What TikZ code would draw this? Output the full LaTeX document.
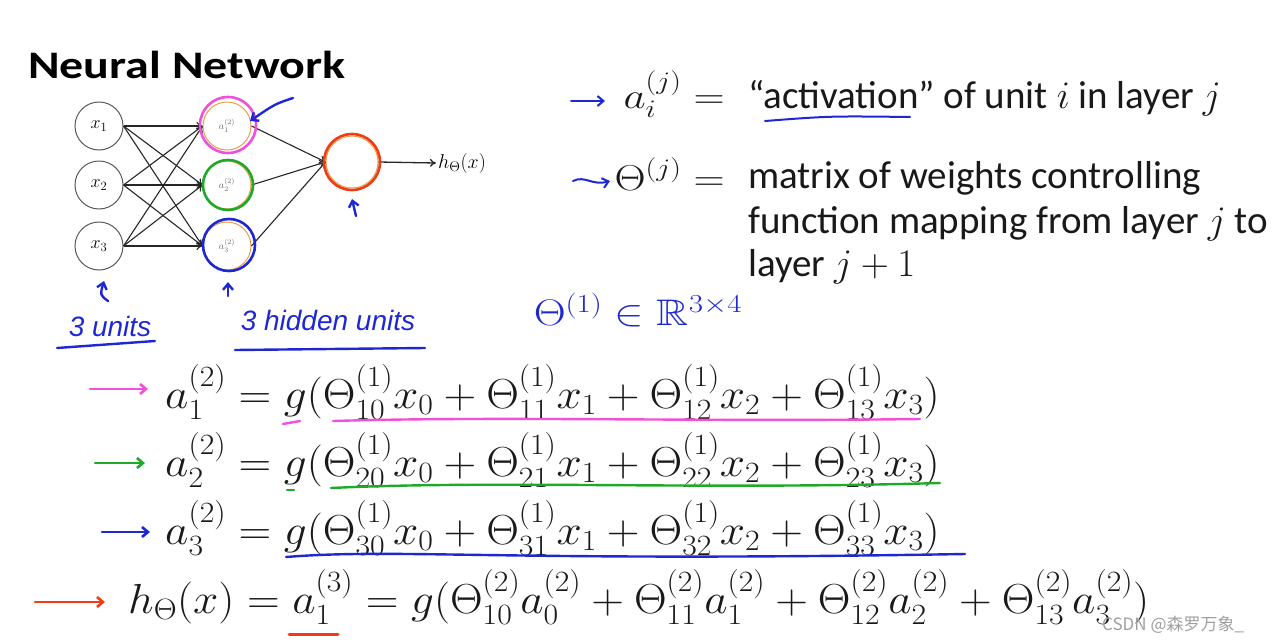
\documentclass[tikz,border=0pt]{standalone}
\usepackage{fix-cm}
\usepackage{amsmath,amssymb}
\usepackage[no-math]{fontspec}
\setmainfont{Carlito}
\newfontfamily\cjk{Noto Sans CJK SC}
\newfontfamily\hand{Liberation Sans}
\usetikzlibrary{arrows.meta}
\definecolor{hpink}{RGB}{240,80,220}
\definecolor{hgreen}{RGB}{30,170,40}
\definecolor{hblue}{RGB}{30,40,210}
\definecolor{hred}{RGB}{240,60,20}
\definecolor{horange}{RGB}{230,160,80}
\newcommand{\wideq}[1]{\scalebox{1.08}[1]{#1}}
\newcommand{\widm}[1]{\scalebox{1.2}[1]{#1}}
\begin{document}
\begin{tikzpicture}[x=1pt,y=-1pt,
  inp/.style={circle, draw=gray!70!black, line width=1pt, minimum size=48pt, inner sep=0pt, font=\fontsize{18}{22}\selectfont},
  hid/.style={circle, draw=horange, line width=1pt, minimum size=48pt, inner sep=0pt, font=\fontsize{10}{12}\selectfont, text=gray!80!black},
  ring/.style={line width=2.6pt},
  edge/.style={-{To[length=6pt,width=8pt]}, line width=1.1pt, black!85},
  pen/.style={line width=2.4pt, line cap=round, line join=round},
  handarrow/.style={pen, -{Straight Barb[length=6pt,width=10pt]}},
  handtext/.style={text=hblue, font=\hand\itshape\fontsize{28}{32}\selectfont},
  rtext/.style={anchor=base west, inner sep=0pt, font=\fontsize{39}{44}\selectfont, text=black!90},
  rmath/.style={anchor=base east, inner sep=0pt, font=\fontsize{36}{44}\selectfont, text=black!90},
  eq/.style={anchor=base west, inner sep=0pt, font=\fontsize{42}{48}\selectfont, text=black!90}
]
\useasboundingbox (0,0) rectangle (1278,643);
% title
\node[anchor=base west, inner sep=0pt, font=\bfseries\fontsize{39}{44}\selectfont] (title) at (28,78) {\scalebox{1.23}[1]{Neural Network}};
% network
\node[inp] (x1) at (99,126) {$x_1$};
\node[inp] (x2) at (99,185) {$x_2$};
\node[inp] (x3) at (99,246) {$x_3$};
\node[hid] (a1) at (227,126) {$a_1^{(2)}$};
\node[hid] (a2) at (227,185) {$a_2^{(2)}$};
\node[hid] (a3) at (227,246) {$a_3^{(2)}$};
\node[circle, draw=horange, line width=1pt, minimum size=52pt, inner sep=0pt] (o) at (352,162) {};
\foreach \i in {1,2,3}{\foreach \j in {1,2,3}{\draw[edge] (x\i.east) -- (a\j.west);}}
\foreach \j in {1,2,3}{\draw[edge] (a\j.east) -- (o.west);}
\node[font=\fontsize{20}{24}\selectfont, inner sep=2pt] (h) at (462,163) {$h_\Theta(x)$};
\draw[edge, line width=1.3pt] (o.east) -- (h.west);
% coloured rings
\draw[ring, hpink] (a1.center) ++(1,-1) circle[radius=28];
\draw[ring, hgreen] (a2.center) ++(1,0) circle[radius=25];
\draw[ring, hblue] (a3.center) ++(2,-1) circle[radius=26];
\draw[ring, hred] (o.center) circle[radius=28];
% hand marks in the diagram
\draw[handarrow, hblue] (293,98) .. controls (275,104) .. (250,121);
\draw[handarrow, hblue] (356,216) -- (352,199);
\draw[handarrow, hblue] (108,301) .. controls (100,295) .. (104,281);
\draw[handarrow, hblue] (228,296) -- (228,282);
\node[handtext] (u1) at (110,326) {3 units};
\node[handtext] (u2) at (328,320) {3 hidden units};
\draw[pen, hblue] (57,348) -- (155,341);
\draw[pen, hblue] (235,350) -- (425,348);
\node[text=hblue, font=\fontsize{37}{42}\selectfont, inner sep=0pt] (thR) at (638,310) {\widm{$\Theta^{(1)}\in\mathbb{R}^{3\times4}$}};
% definitions
\draw[handarrow, hblue, line width=2pt] (571,101) -- (605,101);
\node[rmath] (m1) at (737,108) {\widm{$a_i^{(j)}={}$}};
\node[rtext] (d1) at (748,108) {“activation” of unit $i$ in layer $j$};
\draw[pen, hblue, line width=2pt] (765,121) .. controls (830,116) .. (910,117);
\draw[handarrow, hblue, line width=2pt] (573,181) .. controls (585,175) and (592,186) .. (610,181);
\node[rmath] (m2) at (737,190) {\widm{$\Theta^{(j)}={}$}};
\node[rtext] (d2) at (748,188) {matrix of weights controlling};
\node[rtext] (d3) at (748,233) {function mapping from layer $j$ to};
\node[rtext] (d4) at (748,276) {layer $j+1$};
% equations
\draw[handarrow, hpink, line width=2.6pt] (90,389) -- (148,389);
\node[eq] (e1) at (165,408) {\wideq{$a_1^{(2)} = g(\Theta_{10}^{(1)}x_0 + \Theta_{11}^{(1)}x_1 + \Theta_{12}^{(1)}x_2 + \Theta_{13}^{(1)}x_3)$}};
\draw[pen, hpink] (283,424) -- (300,421);
\draw[pen, hpink] (333,421) .. controls (500,416) and (700,422) .. (920,419);
\draw[handarrow, hgreen, line width=2.6pt] (95,463) -- (145,463);
\node[eq] (e2) at (165,476) {\wideq{$a_2^{(2)} = g(\Theta_{20}^{(1)}x_0 + \Theta_{21}^{(1)}x_1 + \Theta_{22}^{(1)}x_2 + \Theta_{23}^{(1)}x_3)$}};
\draw[pen, hgreen] (287,490) -- (294,490);
\draw[pen, hgreen] (331,488) .. controls (500,480) and (700,490) .. (940,483);
\draw[handarrow, hblue, line width=2.6pt] (102,532) -- (150,532);
\node[eq] (e3) at (165,544) {\wideq{$a_3^{(2)} = g(\Theta_{30}^{(1)}x_0 + \Theta_{31}^{(1)}x_1 + \Theta_{32}^{(1)}x_2 + \Theta_{33}^{(1)}x_3)$}};
\draw[pen, hblue] (286,557) .. controls (400,548) and (500,562) .. (965,554);
\draw[handarrow, hred, line width=2.6pt] (35,602) -- (105,602);
\node[eq] (e4) at (128,613) {\wideq{$h_\Theta(x) = a_1^{(3)} = g(\Theta_{10}^{(2)}a_0^{(2)} + \Theta_{11}^{(2)}a_1^{(2)} + \Theta_{12}^{(2)}a_2^{(2)} + \Theta_{13}^{(2)}a_3^{(2)})$}};
\draw[pen, hred, line width=3pt] (289,634) -- (338,634);
% watermark
\node[anchor=base west, inner sep=0pt, text=gray!75, font=\cjk\fontsize{17}{20}\selectfont] (wm) at (1102,630) {CSDN @森罗万象\_};
\end{tikzpicture}
\end{document}
